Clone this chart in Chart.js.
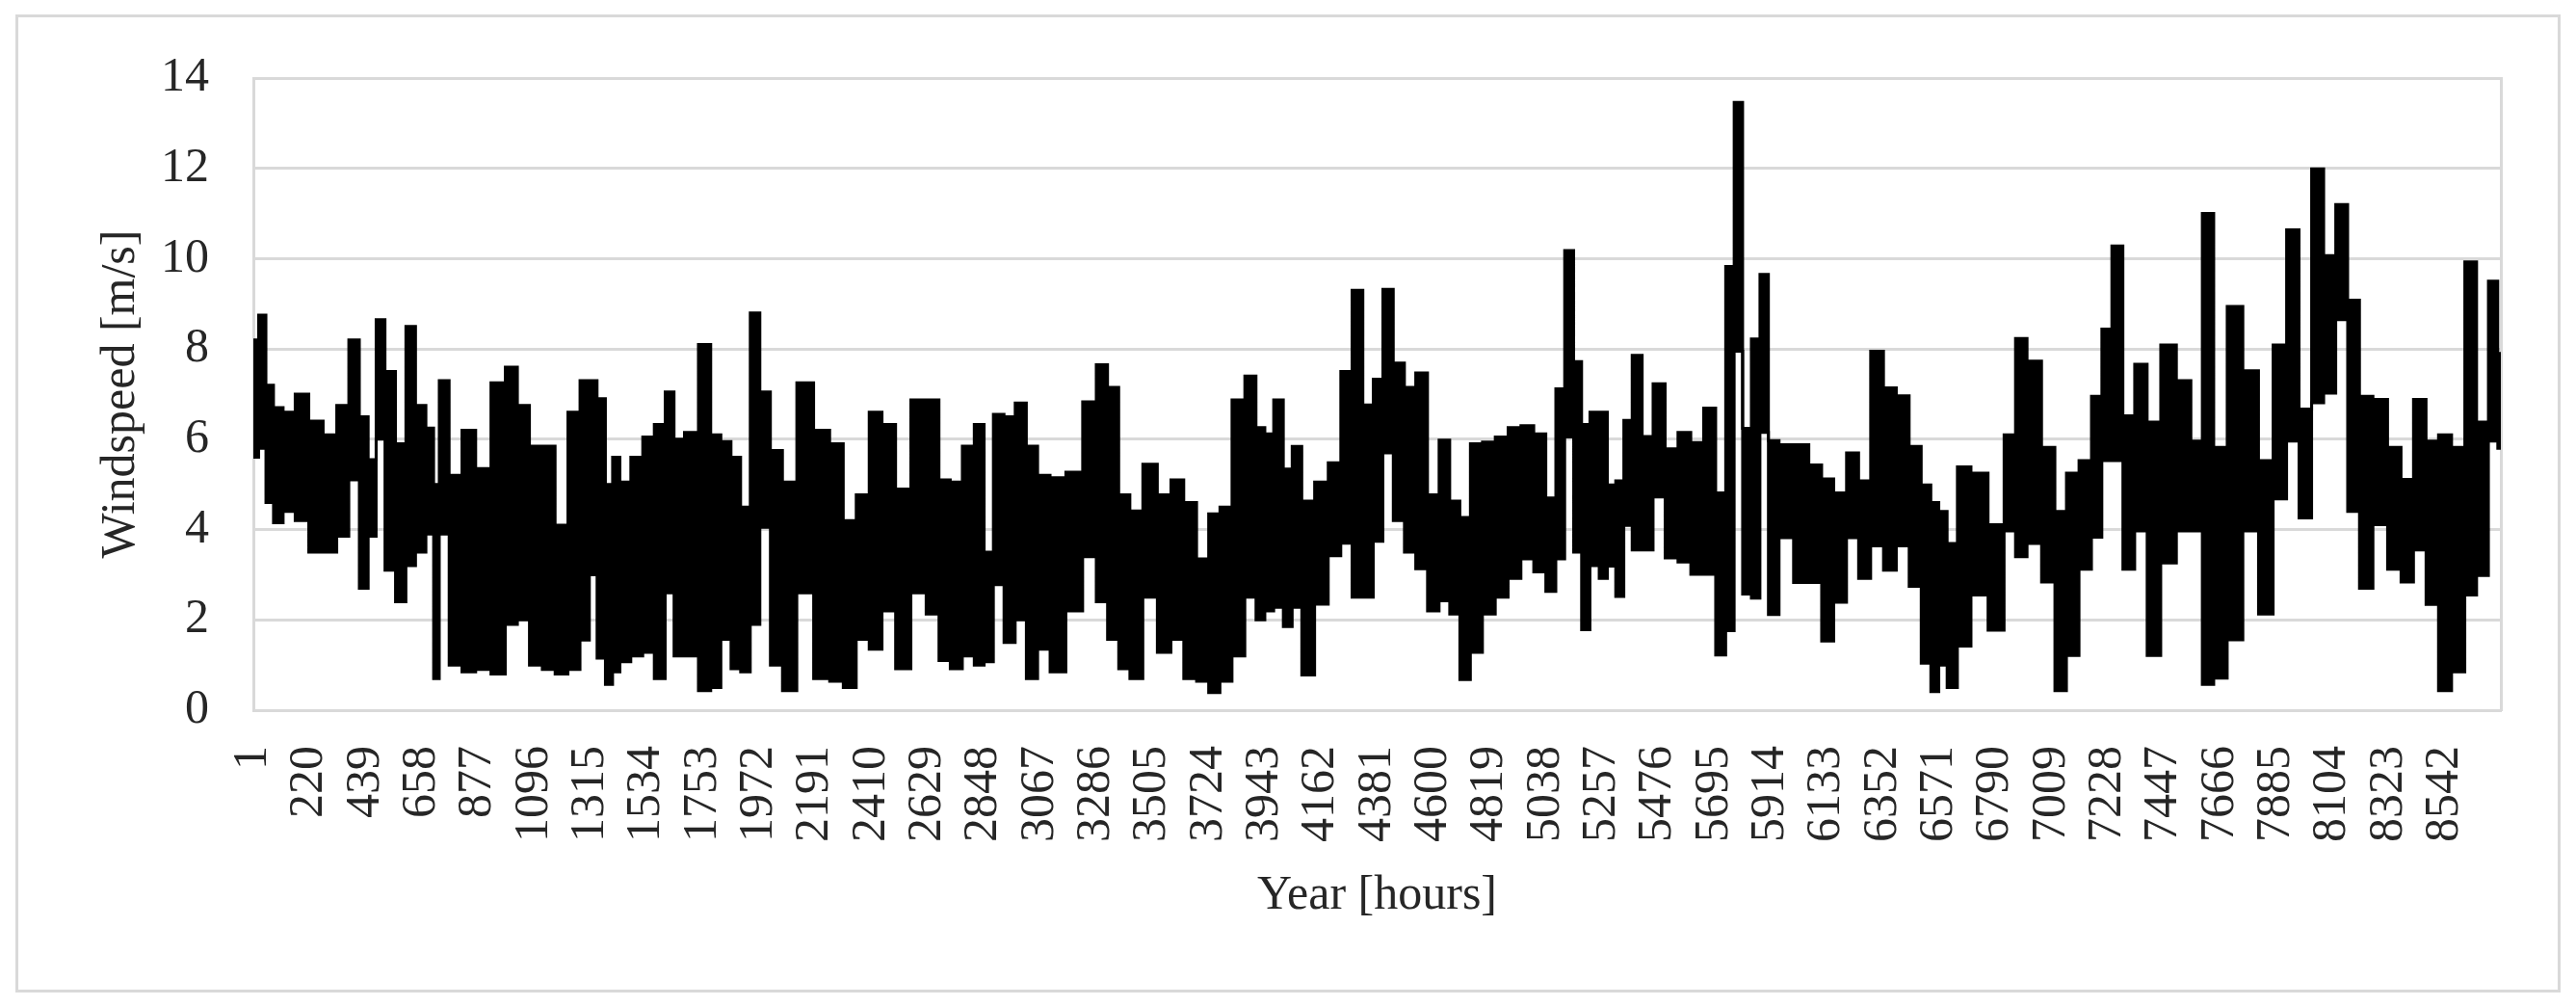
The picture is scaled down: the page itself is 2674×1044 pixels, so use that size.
<!DOCTYPE html>
<html>
<head>
<meta charset="utf-8">
<script src="https://cdn.jsdelivr.net/npm/chart.js@4.4.1/dist/chart.umd.min.js"></script>
<style>
  html, body { margin: 0; padding: 0; background: #ffffff; }
  #wrap { position: relative; width: 2674px; height: 1044px; }
  #frame { position: absolute; left: 16px; top: 15px; width: 2636px; height: 1009px;
           border: 3px solid #d9d9d9; pointer-events: none; }
  canvas { position: absolute; left: 0; top: 0; }
</style>
</head>
<body>
<div id="wrap">
  <canvas id="c" width="2674" height="1044"></canvas>
  <div id="frame"></div>
</div>
<script>
// Hour of the year (x) for each reading of the hourly trace
const hours = [
  1, 7, 36, 64, 95, 139, 189, 245, 301, 351, 395, 433, 464, 495, 533, 577, 614, 652, 695, 712,
  739, 789, 839, 896, 958, 1008, 1052, 1102, 1152, 1202, 1252, 1296,
  1325, 1356, 1390, 1412, 1447, 1497, 1540, 1587, 1625, 1656, 1706, 1765, 1802, 1844, 1881, 1919,
  1956, 1994, 2038, 2088, 2150, 2219, 2275, 2325, 2376, 2426, 2476, 2532, 2595,
  2651, 2695, 2739, 2789, 2832, 2866, 2904, 2949, 2991, 3036, 3079, 3133, 3202, 3264, 3308, 3352,
  3395, 3439, 3496, 3552, 3602, 3652, 3702, 3746, 3790, 3840, 3890, 3927,
  3959, 3996, 4034, 4065, 4109, 4165, 4215, 4263, 4303, 4347, 4384, 4422, 4465, 4509, 4553, 4601,
  4643, 4684, 4722, 4766, 4816, 4866, 4916, 4966, 5016, 5060, 5094, 5129, 5164, 5191, 5229,
  5263, 5293, 5328, 5356, 5393, 5434, 5478, 5528, 5578, 5628, 5678, 5722, 5756, 5788, 5822, 5856,
  5889, 5922, 5972, 6035, 6091, 6135, 6185, 6235, 6279, 6329, 6379, 6429, 6479, 6523, 6554,
  6585, 6619, 6665, 6725, 6798, 6850, 6887, 6940, 7000, 7044, 7090, 7142, 7187, 7223, 7265, 7309,
  7357, 7406, 7463, 7528, 7576, 7617, 7665, 7722, 7787, 7844, 7901, 7949, 7998, 8047, 8092, 8141,
  8185, 8233, 8290, 8347, 8395, 8444, 8493, 8541, 8595, 8644, 8687, 8736, 8760
];
// Highest windspeed reached around each of those hours [m/s]
const windHigh = [
  7.8, 8.2, 8.75, 7.2, 6.7, 6.6, 7.0, 6.4, 6.1, 6.75, 8.2, 6.5, 5.55, 8.65, 7.5, 5.9, 8.5, 6.75, 6.25, 5.0,
  7.3, 5.2, 6.2, 5.35, 7.25, 7.6, 6.75, 5.85, 5.85, 4.1, 6.6, 7.3,
  7.3, 6.9, 5.0, 5.6, 5.05, 5.6, 6.05, 6.33, 7.05, 6.0, 6.15, 8.1, 6.1, 5.95, 5.6, 4.5,
  8.8, 7.05, 5.75, 5.05, 7.25, 6.2, 5.9, 4.2, 4.77, 6.6, 6.33, 4.9, 6.87,
  6.87, 5.1, 5.05, 5.85, 6.33, 3.5, 6.55, 6.5, 6.8, 5.85, 5.2, 5.15, 5.27, 6.83, 7.65, 7.15,
  4.77, 4.41, 5.45, 4.77, 5.1, 4.6, 3.35, 4.35, 4.5, 6.87, 7.4, 6.26,
  6.12, 6.87, 5.34, 5.84, 4.63, 5.05, 5.48, 7.5, 9.3, 6.76, 7.33, 9.32, 7.69, 7.15, 7.47, 4.77,
  5.98, 4.63, 4.27, 5.9, 5.94, 6.05, 6.26, 6.3, 6.12, 4.7, 7.12, 10.18, 7.72, 6.33, 6.6,
  6.6, 4.99, 5.08, 6.42, 7.86, 6.06, 7.23, 5.79, 6.15, 5.93, 6.69, 4.81, 9.83, 13.46, 6.24, 8.22,
  9.65, 5.97, 5.88, 5.88, 5.43, 5.12, 4.81, 5.7, 5.08, 7.95, 7.14, 6.96, 5.84, 4.99, 4.6,
  4.4, 3.69, 5.39, 5.25, 4.11, 6.1, 8.23, 7.73, 5.82, 4.4, 5.25, 5.53, 6.95, 8.44, 10.28, 6.52,
  7.66, 6.38, 8.09, 7.3, 5.96, 11.0, 5.82, 8.94, 7.52, 5.53, 8.09, 10.64, 6.67, 11.99, 10.07, 11.2,
  9.08, 6.95, 6.88, 5.82, 5.11, 6.88, 5.96, 6.1, 5.82, 9.93, 6.38, 9.5, 7.9
];
// Lowest windspeed reached around each of those hours [m/s]
const windLow = [
  5.7, 5.6, 5.8, 4.6, 4.15, 4.4, 4.2, 3.5, 3.5, 3.85, 5.1, 2.7, 3.85, 6.0, 3.1, 2.4, 3.2, 3.5, 3.9, 0.7,
  3.9, 1.0, 0.85, 0.9, 0.8, 1.9, 2.0, 1.0, 0.9, 0.8, 0.9, 1.55,
  3.0, 1.15, 0.57, 0.85, 1.07, 1.2, 1.28, 0.7, 2.6, 1.2, 1.2, 0.43, 0.5, 1.57, 0.92, 0.85,
  1.9, 4.05, 1.0, 0.43, 2.6, 0.7, 0.64, 0.5, 1.57, 1.35, 2.2, 0.92, 2.6,
  2.13, 1.1, 0.92, 1.2, 1.0, 1.07, 2.78, 1.5, 2.0, 0.7, 1.35, 0.85, 2.2, 3.4, 2.4, 1.57,
  0.92, 0.7, 2.5, 1.28, 1.57, 0.7, 0.64, 0.39, 0.64, 1.2, 2.5, 2.0,
  2.2, 2.28, 1.85, 2.28, 0.78, 2.35, 3.42, 3.7, 2.5, 2.5, 3.74, 5.7, 4.2, 3.5, 3.13, 2.2,
  2.42, 2.13, 0.68, 1.28, 2.13, 2.5, 2.92, 3.35, 3.06, 2.63, 3.35, 6.05, 3.5, 1.78, 3.2,
  2.92, 3.19, 2.52, 4.09, 3.55, 3.55, 4.72, 3.37, 3.28, 3.01, 3.01, 1.22, 1.76, 7.95, 2.57, 2.48,
  6.15, 2.12, 3.82, 2.83, 2.83, 1.53, 2.39, 3.82, 2.92, 3.64, 3.1, 3.64, 2.74, 1.04, 0.41,
  1.0, 0.5, 1.42, 2.55, 1.77, 3.97, 3.4, 3.69, 2.84, 0.43, 1.21, 3.12, 3.83, 5.53, 5.53, 3.12,
  3.97, 1.21, 3.26, 3.97, 3.97, 0.57, 0.71, 1.56, 3.97, 2.13, 4.68, 5.96, 4.26, 6.81, 7.02, 8.65,
  4.4, 2.7, 4.11, 3.12, 2.84, 3.55, 2.34, 0.43, 0.85, 2.55, 2.98, 5.96, 5.8
];
// Category labels shown on the hour axis
const hourTicks = [
  1, 220, 439, 658, 877, 1096, 1315, 1534, 1753, 1972, 2191, 2410, 2629, 2848, 3067, 3286,
  3505, 3724, 3943, 4162, 4381, 4600, 4819, 5038, 5257, 5476, 5695, 5914, 6133, 6352, 6571,
  6790, 7009, 7228, 7447, 7666, 7885, 8104, 8323, 8542
];
const yTitle = 'Windspeed [m/s]';
const xTitle = 'Year [hours]';

const FONT = "'Liberation Serif', 'Times New Roman', serif";
const TEXT = '#262626';
const GRID = '#d9d9d9';

const highPts = hours.map((h, i) => ({ x: h, y: windHigh[i] }));
const lowPts = hours.map((h, i) => ({ x: h, y: windLow[i] }));

new Chart(document.getElementById('c'), {
  type: 'line',
  data: {
    datasets: [
      { label: 'high', data: highPts, borderColor: '#000', backgroundColor: '#000',
        borderWidth: 3, pointRadius: 0, fill: '+1', stepped: 'middle' },
      { label: 'low', data: lowPts, borderColor: '#000', backgroundColor: '#000',
        borderWidth: 3, pointRadius: 0, fill: false, stepped: 'middle' }
    ]
  },
  options: {
    responsive: false,
    animation: false,
    events: [],
    layout: { padding: { left: 92, right: 78, top: 81, bottom: 80 } },
    plugins: { legend: { display: false }, tooltip: { enabled: false } },
    scales: {
      x: {
        type: 'linear', min: 1, max: 8760,
        afterBuildTicks: (s) => { s.ticks = hourTicks.map(v => ({ value: v })); },
        afterFit: (s) => { s.height = 1044 - 80 - 737; },
        grid: { display: false, drawTicks: false },
        border: { display: true, color: GRID, width: 3 },
        ticks: { autoSkip: false, maxRotation: 90, minRotation: 90, padding: 37,
                 color: TEXT, font: { family: FONT, size: 50 },
                 callback: (v) => String(v) },
        title: { display: true, text: xTitle, color: TEXT, padding: 4,
                 font: { family: FONT, size: 50 } }
      },
      y: {
        min: 0, max: 14,
        afterFit: (s) => { s.width = 263 - 92; },
        grid: { color: GRID, lineWidth: 3, drawTicks: false },
        border: { display: true, color: GRID, width: 3 },
        ticks: { stepSize: 2, padding: 46, color: TEXT, font: { family: FONT, size: 50 } },
        title: { display: true, text: yTitle, color: TEXT, padding: 4,
                 font: { family: FONT, size: 50 } }
      },
      y2: {
        position: 'right', min: 0, max: 14,
        afterFit: (s) => { s.width = 0; },
        grid: { display: false, drawTicks: false },
        border: { display: true, color: GRID, width: 3 },
        ticks: { display: false }
      }
    }
  }
});
</script>
</body>
</html>
